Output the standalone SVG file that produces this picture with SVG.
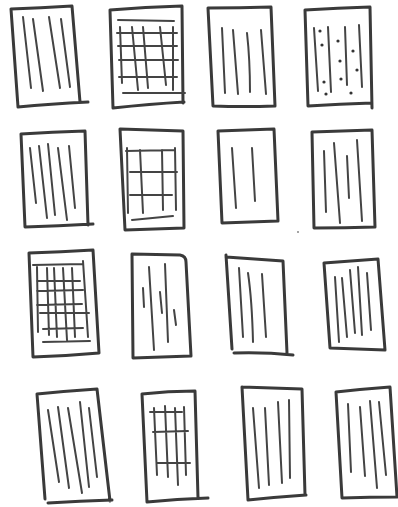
<svg xmlns="http://www.w3.org/2000/svg" width="398" height="507" viewBox="0 0 398 507">
<style>
.o{fill:none;stroke:#3a3a3a;stroke-width:3;stroke-linecap:round;stroke-linejoin:round}
.l{fill:none;stroke:#444;stroke-width:2;stroke-linecap:round}
.d{fill:#333}
</style>
<rect width="398" height="507" fill="#fff"/>
<g id="s1">
<path class="o" d="M11,9 Q40,8 72,6 L80,102 M88,102 Q50,104 18,107 L11,9"/>
<path class="l" d="M23,17 L31,88 M33,19 L43,91 M49,17 L60,88 M61,19 L70,87"/>
</g>
<g id="s2">
<path class="o" d="M110,10 Q145,7 182,6 L183,103 M113,108 Q150,104 184,102 M110,10 L113,108"/>
<path class="l" d="M118,20 L174,21 M120,27 L122,83 M132,27 L138,90 M143,27 L148,88 M160,27 L166,85 M173,27 L173,90 M117,33 L177,33 M118,46 L177,46 M119,60 L178,60 M119,77 L177,77 M123,93 L185,93"/>
</g>
<g id="s3">
<path class="o" d="M208,8 Q240,8 271,7 L275,106 Q244,107 213,106 Z"/>
<path class="l" d="M222,28 L225,93 M233,30 L238,94 M247,33 Q250,60 250,92 M261,30 L266,94"/>
</g>
<g id="s4">
<path class="o" d="M305,10 Q338,8 370,7 L372,108 M308,106 Q340,104 372,103 M305,10 L308,106"/>
<path class="l" d="M314,28 L318,91 M328,27 L331,92 M345,27 L347,85 M359,25 L362,87"/>
<circle class="d" cx="320" cy="31" r="1.6"/><circle class="d" cx="322" cy="45" r="1.6"/><circle class="d" cx="338" cy="41" r="1.6"/><circle class="d" cx="353" cy="51" r="1.6"/><circle class="d" cx="340" cy="61" r="1.6"/><circle class="d" cx="357" cy="70" r="1.6"/><circle class="d" cx="324" cy="82" r="1.6"/><circle class="d" cx="341" cy="79" r="1.6"/><circle class="d" cx="326" cy="94" r="1.6"/><circle class="d" cx="351" cy="93" r="1.6"/>
</g>
<g id="s5">
<path class="o" d="M21,134 Q52,132 85,131 L88,225 M93,224 Q58,226 25,227 L21,134"/>
<path class="l" d="M30,148 L36,203 M39,146 L47,218 M48,144 L55,215 M58,148 L67,220 M69,146 L75,208"/>
</g>
<g id="s6">
<path class="o" d="M120,129 Q152,130 183,131 L184,228 Q155,229 125,230 Z"/>
<path class="l" d="M126,151 L175,150 M127,148 L128,213 M140,150 L143,213 M162,150 L163,210 M175,148 L176,210 M130,172 L177,172 M130,195 L172,195 M132,220 L173,216"/>
</g>
<g id="s7">
<path class="o" d="M218,131 Q246,130 274,129 L278,221 Q250,222 222,223 Z"/>
<path class="l" d="M232,148 L236,208 M252,148 L255,201"/>
</g>
<g id="s8">
<path class="o" d="M312,132 Q342,131 372,130 L375,227 Q345,228 314,228 Z"/>
<path class="l" d="M324,151 L326,212 M334,143 L340,223 M347,156 L349,198 M357,140 L362,221"/>
<circle class="d" cx="298" cy="232" r="0.8"/>
</g>
<g id="s9">
<path class="o" d="M29,253 Q61,252 93,250 L99,353 Q66,356 33,357 Z"/>
<path class="l" d="M33,265 L83,264 M37,267 L38,332 M47,268 L49,335 M54,268 L57,337 M63,268 L67,340 M72,268 L75,337 M83,261 L88,337 M37,281 L80,281 M37,291 L83,290 M37,305 L82,304 M40,313 L89,313 M43,329 L83,328 M43,342 L90,341"/>
</g>
<g id="s10">
<path class="o" d="M132,254 L180,255 Q186,256 186,262 L191,356 M191,356 Q162,357 133,358 L132,254"/>
<path class="l" d="M149,267 L154,350 M165,264 L168,342 M143,288 L144,307 M160,292 L162,313 M174,310 L176,325"/>
</g>
<g id="s11">
<path class="o" d="M226,255 L232,349 M226,257 Q254,259 283,261 L287,353 M234,353 Q264,352 293,355"/>
<path class="l" d="M239,268 L243,337 M248,273 Q252,300 253,342 M262,274 L266,337"/>
</g>
<g id="s12">
<path class="o" d="M324,263 Q351,261 378,259 L385,350 Q357,349 330,348 Z"/>
<path class="l" d="M335,277 L339,342 M342,278 L347,337 M350,270 L355,333 M358,267 L362,335 M367,273 L371,330"/>
</g>
<g id="s13">
<path class="o" d="M37,394 Q67,391 97,389 L110,501 M48,503 Q80,501 112,500 M37,394 L45,499"/>
<path class="l" d="M48,410 L59,482 M58,407 L69,488 M68,408 L82,493 M80,402 L89,487 M89,408 L97,477"/>
</g>
<g id="s14">
<path class="o" d="M142,394 Q168,391 195,391 L198,498 M147,502 Q177,499 208,498 M142,394 L147,502"/>
<path class="l" d="M150,412 L182,412 M154,408 L157,475 M165,406 L168,477 M175,408 L178,485 M184,407 L186,475 M153,432 L188,431 M157,463 L190,463"/>
</g>
<g id="s15">
<path class="o" d="M242,387 Q272,388 302,389 L305,495 M306,495 Q277,497 248,500 L242,387"/>
<path class="l" d="M253,408 L259,488 M265,408 L269,485 M278,402 L282,483 M289,400 L290,478"/>
</g>
<g id="s16">
<path class="o" d="M336,392 Q363,389 390,387 L397,497 Q370,497 342,498 Z"/>
<path class="l" d="M348,404 L351,472 M360,407 L365,476 M370,401 L377,488 M379,402 L386,475"/>
</g>
</svg>
